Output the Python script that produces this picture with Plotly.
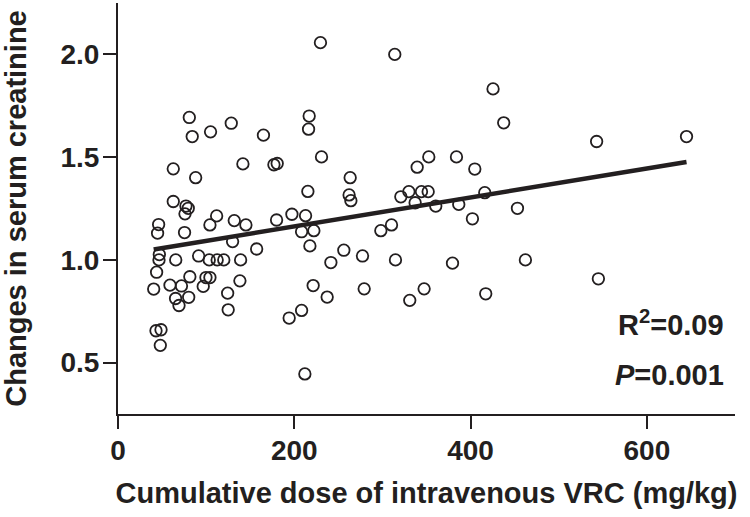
import plotly.graph_objects as go
import numpy as np

# Cumulative dose of intravenous VRC (mg/kg)
dose = [229.7, 314, 425.5, 437.6, 80.9, 84.2, 105, 128.5, 165, 216.9,
        216.2, 230.9, 62.7, 88.1, 141.7, 176.9, 180.6, 215.4, 263.4, 262.2,
        264.2, 339.4, 352.6, 384, 404.8, 320.9, 330, 344.3, 351.9, 337.1,
        360.5, 386.6, 416.1, 453.2, 402.1, 298.2, 310.3, 256.2, 277.4, 314.8,
        379.5, 462.2, 279.3, 347.3, 331, 417.2, 62.7, 77.1, 79.7, 76,
        111.9, 104.3, 131.9, 145.1, 179.9, 197.3, 212.8, 208.3, 222.2, 217.7,
        130, 157.3, 46.1, 44.9, 75.5, 46.9, 46.5, 65.5, 91.5, 103.5,
        112.5, 120, 139.1, 43.8, 241.5, 40.5, 59, 72, 81.5, 96.7,
        99.8, 104.3, 138.3, 124.4, 125, 80.2, 65.3, 69.2, 221.4, 237.3,
        194.2, 208.3, 43.1, 48.8, 48, 212, 543, 645, 545]

# Changes in serum creatinine
creat = [2.057, 2.0, 1.832, 1.667, 1.693, 1.600, 1.623, 1.665, 1.607, 1.700,
         1.636, 1.501, 1.443, 1.400, 1.467, 1.463, 1.469, 1.333, 1.400, 1.316,
         1.288, 1.451, 1.501, 1.501, 1.442, 1.307, 1.332, 1.332, 1.332, 1.278,
         1.262, 1.270, 1.327, 1.251, 1.200, 1.142, 1.170, 1.047, 1.019, 1.000,
         0.984, 1.000, 0.859, 0.859, 0.803, 0.835, 1.284, 1.262, 1.251, 1.224,
         1.214, 1.170, 1.191, 1.170, 1.194, 1.222, 1.215, 1.137, 1.142, 1.068,
         1.089, 1.053, 1.172, 1.130, 1.133, 1.026, 1.000, 1.000, 1.019, 1.000,
         1.000, 1.000, 1.000, 0.940, 0.987, 0.858, 0.877, 0.873, 0.918, 0.871,
         0.914, 0.914, 0.898, 0.838, 0.757, 0.818, 0.812, 0.778, 0.875, 0.819,
         0.717, 0.754, 0.655, 0.660, 0.584, 0.445, 1.576, 1.600, 0.908]

# Linear regression
fit_intercept = 1.022
fit_slope = 0.000704
r2_label = "R<sup>2</sup>=0.09"
p_label = "<i>P</i>=0.001"

x_ticks = [0, 200, 400, 600]
y_ticks = [0.5, 1.0, 1.5, 2.0]

ink = "#231f20"
font_family = "Liberation Sans, Arial, Helvetica, sans-serif"

fit_x = np.array([min(dose), max(dose)])
fit_y = fit_intercept + fit_slope * fit_x

fig = go.Figure()
fig.add_trace(go.Scatter(
    x=dose, y=creat, mode="markers",
    marker=dict(symbol="circle-open", size=11.5, color=ink,
                line=dict(width=1.8, color=ink)),
    showlegend=False, hoverinfo="x+y"))
fig.add_trace(go.Scatter(
    x=fit_x, y=fit_y, mode="lines",
    line=dict(color=ink, width=4.5), showlegend=False))

fig.add_annotation(x=690, y=0.695, xref="x", yref="y", text=r2_label,
                   showarrow=False, xanchor="right", yanchor="middle",
                   font=dict(size=29, color=ink, family=font_family, weight="bold"))
fig.add_annotation(x=690, y=0.44, xref="x", yref="y", text=p_label,
                   showarrow=False, xanchor="right", yanchor="middle",
                   font=dict(size=29, color=ink, family=font_family, weight="bold"))

axis_common = dict(showline=True, linewidth=2, linecolor=ink, ticks="outside",
                   ticklen=13, tickwidth=2, tickcolor=ink, showgrid=False,
                   zeroline=False, mirror=False, automargin=False,
                   tickfont=dict(size=28, color=ink, family=font_family, weight="bold"))

fig.update_layout(
    width=750, height=517,
    margin=dict(l=118, r=15, t=3, b=103),
    paper_bgcolor="white", plot_bgcolor="white",
    xaxis=dict(range=[0, 700], tickvals=x_ticks, ticklabelstandoff=-3,
               title=dict(text="Cumulative dose of intravenous VRC (mg/kg)",
                          font=dict(size=29, color=ink, family=font_family, weight="bold"),
                          standoff=18),
               **axis_common),
    yaxis=dict(range=[0.25, 2.25], tickvals=y_ticks, tickformat=".1f",
               ticklabelstandoff=-2,
               title=dict(text="Changes in serum creatinine",
                          font=dict(size=29, color=ink, family=font_family, weight="bold"),
                          standoff=25),
               **axis_common),
)

fig.write_html("out.html", config={"displayModeBar": False},
               post_script="document.body.style.margin='0';")
